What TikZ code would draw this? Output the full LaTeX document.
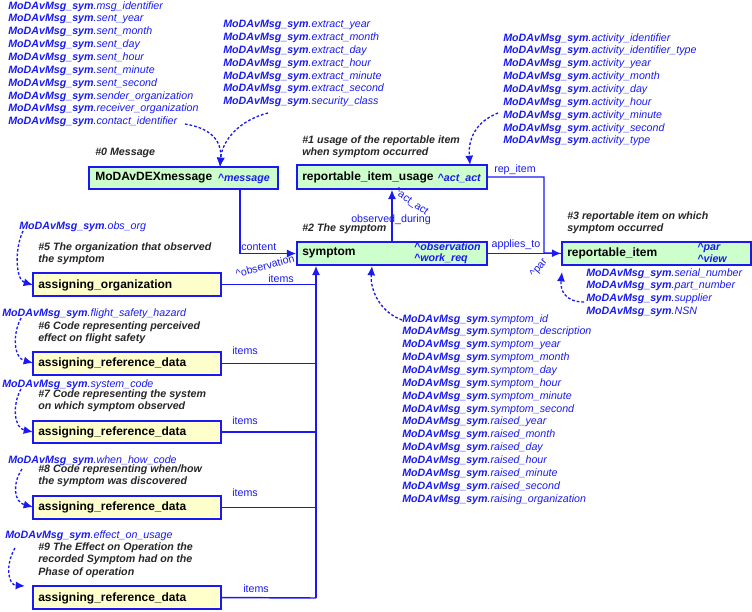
\documentclass[tikz,border=0pt]{standalone}
\usepackage{fontspec}
\setmainfont{Liberation Sans}
\usetikzlibrary{arrows.meta,fit}
\definecolor{lb}{RGB}{26,26,240}
\definecolor{gfill}{RGB}{204,255,204}
\definecolor{yfill}{RGB}{255,255,204}
\newcommand{\sy}[1]{\textbf{MoDAvMsg\_sym}.#1}
\begin{document}
\begin{tikzpicture}[x=0.75pt,y=-0.75pt,
  gbox/.style={draw=lb,line width=1.1pt,fill=gfill,inner sep=0pt},
  ybox/.style={draw=lb,line width=1.1pt,fill=yfill,inner sep=0pt},
  bt/.style={anchor=west,font=\fontsize{9}{10}\selectfont\bfseries,inner sep=0pt},
  rt/.style={anchor=east,font=\fontsize{8}{8.5}\selectfont\bfseries\itshape,text=lb,inner sep=0pt,align=left},
  lst/.style={anchor=north west,font=\fontsize{8}{9.65}\selectfont\itshape,text=lb,inner sep=0pt,align=left},
  cmt/.style={anchor=north west,font=\fontsize{8}{9.6}\selectfont\bfseries\itshape,text=black!85,inner sep=0pt,align=left},
  lab/.style={font=\fontsize{8}{8}\selectfont,text=lb,inner sep=0pt},
  ln/.style={draw=lb,line width=1.1pt},
  arr/.style={ln,-{Latex[length=7pt,width=6pt]}},
  da/.style={draw=lb,line width=1pt,dash pattern=on 2pt off 1.5pt,-{Latex[length=7pt,width=6pt]}}]
\useasboundingbox (0,0) rectangle (752,611);
% boxes
\node[gbox,fit={(89,167)(278,189)}] (msg) {};
\node[bt] at (95,178) {MoDAvDEXmessage};
\node[rt] at (270,179) {\textasciicircum message};
\node[gbox,fit={(297,165)(487,189)}] (use) {};
\node[bt] at (302,177) {reportable\_item\_usage};
\node[rt] at (481,178) {\textasciicircum act\_act};
\node[gbox,fit={(297,242)(487,265)}] (sym) {};
\node[bt] at (302,253) {symptom};
\node[rt] at (481,253) {\textasciicircum observation\\\textasciicircum work\_req};
\node[gbox,fit={(562,242)(751,265)}] (ri) {};
\node[bt] at (567,253) {reportable\_item};
\node[rt] at (727,253) {\textasciicircum par\\\textasciicircum view};
\node[ybox,fit={(33,273)(221,296)}] (ao) {};
\node[bt] at (38,285) {assigning\_organization};
\node[ybox,fit={(33,352)(221,375)}] (r6) {};
\node[bt] at (38,363) {assigning\_reference\_data};
\node[ybox,fit={(33,421)(221,443)}] (r7) {};
\node[bt] at (38,432) {assigning\_reference\_data};
\node[ybox,fit={(33,496)(221,519)}] (r8) {};
\node[bt] at (38,507) {assigning\_reference\_data};
\node[ybox,fit={(33,586)(221,609)}] (r9) {};
\node[bt] at (38,598) {assigning\_reference\_data};
% comments
\node[cmt] at (95,148) {\#0 Message};
\node[cmt] at (302,135) {\#1 usage of the reportable item\\when symptom occurred};
\node[cmt] at (302,223) {\#2 The symptom};
\node[cmt] at (567,211) {\#3 reportable item on which\\symptom occurred};
\node[cmt] at (38,242) {\#5 The organization that observed\\the symptom};
\node[cmt] at (38,321) {\#6 Code representing perceived\\effect on flight safety};
\node[cmt] at (38,389) {\#7 Code representing the system\\on which symptom observed};
\node[cmt] at (38,464) {\#8 Code representing when/how\\the symptom was discovered};
\node[cmt] at (38,542) {\#9 The Effect on Operation the\\recorded Symptom had on the\\Phase of operation};
% lists
\node[lst] (l1) at (8,1) {\sy{msg\_identifier}\\\sy{sent\_year}\\\sy{sent\_month}\\\sy{sent\_day}\\\sy{sent\_hour}\\\sy{sent\_minute}\\\sy{sent\_second}\\\sy{sender\_organization}\\\sy{receiver\_organization}\\\sy{contact\_identifier}};
\node[lst] (l2) at (223,20) {\sy{extract\_year}\\\sy{extract\_month}\\\sy{extract\_day}\\\sy{extract\_hour}\\\sy{extract\_minute}\\\sy{extract\_second}\\\sy{security\_class}};
\node[lst] (l3) at (503,33) {\sy{activity\_identifier}\\\sy{activity\_identifier\_type}\\\sy{activity\_year}\\\sy{activity\_month}\\\sy{activity\_day}\\\sy{activity\_hour}\\\sy{activity\_minute}\\\sy{activity\_second}\\\sy{activity\_type}};
\node[lst] (l4) at (402,314) {\sy{symptom\_id}\\\sy{symptom\_description}\\\sy{symptom\_year}\\\sy{symptom\_month}\\\sy{symptom\_day}\\\sy{symptom\_hour}\\\sy{symptom\_minute}\\\sy{symptom\_second}\\\sy{raised\_year}\\\sy{raised\_month}\\\sy{raised\_day}\\\sy{raised\_hour}\\\sy{raised\_minute}\\\sy{raised\_second}\\\sy{raising\_organization}};
\node[lst] (l5) at (586,268) {\sy{serial\_number}\\\sy{part\_number}\\\sy{supplier}\\\sy{NSN}};
\node[lst] (o5) at (19,221) {\sy{obs\_org}};
\node[lst] (o6) at (2,308) {\sy{flight\_safety\_hazard}};
\node[lst] (o7) at (2,379) {\sy{system\_code}};
\node[lst] (o8) at (8,455) {\sy{when\_how\_code}};
\node[lst] (o9) at (5,530) {\sy{effect\_on\_usage}};
% connectors
\coordinate (t9) at (316,598);
\draw[arr] (msg.south -| 240,0) |- (sym.west);
\node[lab,anchor=south west] at (241,251) {content};
\draw[arr] (t9) -- (sym.south -| 316,0);
\draw[ln] (ao.east) -- (ao.east -| t9);
\draw[ln] (r6.east) -- (r6.east -| t9);
\draw[ln] (r7.east) -- (r7.east -| t9);
\draw[ln] (r8.east) -- (r8.east -| t9);
\draw[ln] (r9.east) -- (t9);
\node[lab] at (281,279) {items};
\node[lab,rotate=15] at (265,266) {\textasciicircum observation};
\node[lab] at (245,351) {items};
\node[lab] at (245,421) {items};
\node[lab] at (245,493) {items};
\node[lab] at (256,589) {items};
\draw[arr] (sym.north -| 392,0) -- (use.south -| 392,0);
\node[lab] at (391,220) {observed\_during};
\node[lab,rotate=-35] at (411,202) {\textasciicircum act\_act};
\draw[arr] (use.east) -| (544,253) -- (ri.west);
\draw[ln] (sym.east) -- (ri.west);
\node[lab] at (515,170) {rep\_item};
\node[lab] at (516,245) {applies\_to};
\node[lab,rotate=50] at (539,268) {\textasciicircum par};
% dashed
\draw[da] (185,124) .. controls (210,128) and (222,140) .. (220,167);
\draw[da] (268,113) .. controls (240,120) and (222,140) .. (220,167);
\draw[da] (498,113) .. controls (475,122) and (468,140) .. (470,165);
\draw[da] (402,320) .. controls (380,312) and (370,290) .. (372,266);
\draw[da] (584,302) .. controls (565,302) and (560,290) .. (562,272);
\draw[da] (23,231) .. controls (14,250) and (16,280) .. (33,285);
\draw[da] (21,318) .. controls (12,335) and (14,358) .. (33,363);
\draw[da] (21,389) .. controls (12,405) and (14,428) .. (33,432);
\draw[da] (22,469) .. controls (12,484) and (14,502) .. (33,507);
\draw[da] (15,548) .. controls (5,565) and (8,585) .. (25,586);
\end{tikzpicture}
\end{document}
